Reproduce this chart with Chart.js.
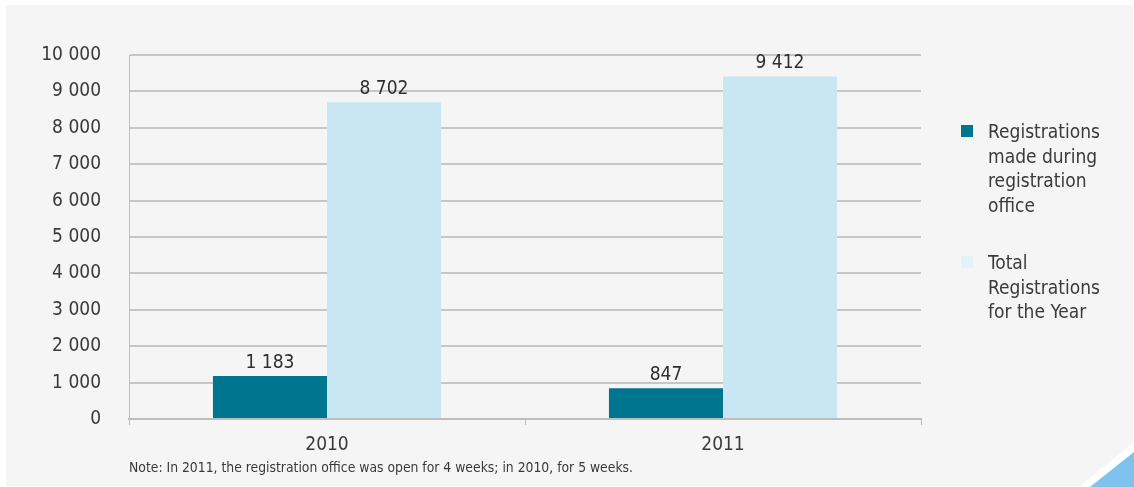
<!DOCTYPE html>
<html>
<head>
<meta charset="utf-8">
<script src="https://cdn.jsdelivr.net/npm/chart.js@4/dist/chart.umd.min.js"></script>
<style>
  html, body { margin: 0; padding: 0; background: #ffffff; }
  body { width: 1134px; height: 487px; position: relative; overflow: hidden;
         font-family: 'DejaVu Sans Condensed', 'DejaVu Sans', sans-serif; color: #3a3a3a; }
  #bg { position: absolute; left: 6px; top: 5px; width: 1127px; height: 481px; background: #f5f5f5; }
  #wrap { position: absolute; left: 0; top: 0; width: 1134px; height: 487px; }
  #stripe { position: absolute; left: 0; top: 0; width: 1134px; height: 487px; background: #ffffff;
            clip-path: polygon(1079px 487px, 1134px 442px, 1134px 487px); }
  #corner { position: absolute; left: 0; top: 0; width: 1134px; height: 487px; background: #7dc3ee;
            clip-path: polygon(1090px 487px, 1134px 452px, 1134px 487px); }
  .legend { position: absolute; left: 961px; font-size: 19px; line-height: 24.5px; }
  .legend .sw { position: absolute; left: 0; width: 12px; height: 12px; }
  .legend .tx { position: absolute; left: 27px; white-space: nowrap; }
  #note { position: absolute; left: 129px; top: 459px; font-size: 13.8px; white-space: nowrap; }
</style>
</head>
<body>
<div id="bg"></div>
<div id="wrap"><canvas id="c" width="1134" height="487"></canvas></div>
<div id="stripe"></div>
<div id="corner"></div>
<div class="legend" style="top:119px;">
  <div class="sw" style="top:6px; background:#00758f;"></div>
  <div class="tx">Registrations<br>made during<br>registration<br>office</div>
</div>
<div class="legend" style="top:250px;">
  <div class="sw" style="top:6px; background:#e4f2f9;"></div>
  <div class="tx">Total<br>Registrations<br>for the Year</div>
</div>
<div id="note">Note: In 2011, the registration office was open for 4 weeks; in 2010, for 5 weeks.</div>
<script>
const categories = ['2010', '2011'];
const seriesNames = ['Registrations made during registration office', 'Total Registrations for the Year'];
const officeRegistrations = [1183, 847];
const totalRegistrations = [8702, 9412];
const yTicks = [0, 1000, 2000, 3000, 4000, 5000, 6000, 7000, 8000, 9000, 10000];

const FONT = "'DejaVu Sans Condensed', 'DejaVu Sans', sans-serif";
const TEXT = '#3a3a3a';

function fmt(v) {
  return String(v).replace(/\B(?=(\d{3})+(?!\d))/g, ' ');
}

const valueLabels = {
  id: 'valueLabels',
  afterDatasetsDraw(chart) {
    const ctx = chart.ctx;
    ctx.save();
    ctx.font = '19px ' + FONT;
    ctx.fillStyle = '#2e2e2e';
    ctx.textAlign = 'center';
    ctx.textBaseline = 'alphabetic';
    chart.data.datasets.forEach((ds, i) => {
      chart.getDatasetMeta(i).data.forEach((bar, j) => {
        ctx.fillText(fmt(ds.data[j]), bar.x, bar.y - 8);
      });
    });
    ctx.restore();
  }
};

new Chart(document.getElementById('c'), {
  type: 'bar',
  data: {
    labels: categories,
    datasets: [
      { label: seriesNames[0], data: officeRegistrations, backgroundColor: '#00758f' },
      { label: seriesNames[1], data: totalRegistrations, backgroundColor: '#c9e7f3' }
    ]
  },
  options: {
    responsive: false,
    animation: false,
    events: [],
    layout: { padding: { left: 0, top: 55, right: 213, bottom: 0 } },
    plugins: { legend: { display: false }, tooltip: { enabled: false } },
    datasets: { bar: { categoryPercentage: 0.576, barPercentage: 1.0 } },
    scales: {
      x: {
        grid: { display: true, drawOnChartArea: false, drawTicks: true, tickLength: 6,
                offset: true, color: '#bdbdbd', lineWidth: 1 },
        border: { display: true, color: '#bdbdbd', width: 2 },
        ticks: { color: TEXT, font: { family: FONT, size: 19 }, padding: 9 },
        afterFit(s) { s.height = 68; }
      },
      y: {
        min: 0, max: 10000,
        afterBuildTicks(s) { s.ticks = yTicks.map(v => ({ value: v })); },
        grid: { color: '#c6c6c6', lineWidth: 2, drawTicks: false },
        border: { display: true, color: '#bdbdbd', width: 1 },
        ticks: { color: TEXT, font: { family: FONT, size: 19 }, padding: 28,
                 callback: (v) => fmt(v) },
        afterFit(s) { s.width = 129; }
      }
    }
  },
  plugins: [valueLabels]
});
</script>
</body>
</html>
